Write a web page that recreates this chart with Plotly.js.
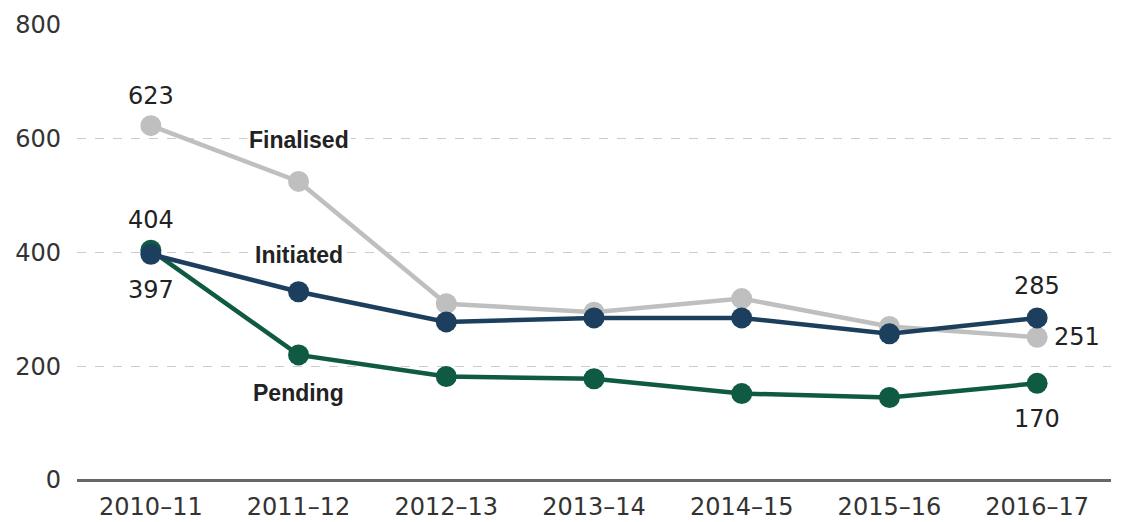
<!DOCTYPE html>
<html>
<head>
<meta charset="utf-8">
<script src="https://cdn.plot.ly/plotly-3.0.1.min.js"></script>
<style>html,body{margin:0;padding:0;background:#fff;}#chart{width:1126px;height:522px;}</style>
</head>
<body>
<div id="chart"></div>
<script>
const years = ["2010–11","2011–12","2012–13","2013–14","2014–15","2015–16","2016–17"];
const finalised = [623, 525, 310, 295, 319, 270, 251];
const initiated = [397, 331, 278, 285, 285, 257, 285];
const pending = [404, 220, 182, 178, 152, 145, 170];
const yTicks = [0, 200, 400, 600, 800];

const numFont = "DejaVu Sans, sans-serif";
const lblFamily = "Liberation Sans, Arial, sans-serif";
const colFin = "#bfbfbf", colIni = "#1c3f5e", colPen = "#0f5a43";

function trace(y, color, name) {
  return {x: years, y: y, type: "scatter", mode: "lines+markers", name: name,
    line: {color: color, width: 4.5}, marker: {color: color, size: 21}, cliponaxis: false,
    hoverinfo: "skip"};
}
const data = [trace(finalised, colFin, "Finalised"), trace(pending, colPen, "Pending"), trace(initiated, colIni, "Initiated")];

const valFont = {family: numFont, size: 24, color: "#222"};
const lblFont = {family: lblFamily, size: 23, color: "#222", weight: "bold"};
const n = years.length - 1;
const annotations = [
  {x: years[0], y: finalised[0], text: String(finalised[0]), yshift: 30, font: valFont},
  {x: years[0], y: pending[0], text: String(pending[0]), yshift: 30, font: valFont},
  {x: years[0], y: initiated[0], text: String(initiated[0]), yshift: -36, font: valFont},
  {x: years[n], y: initiated[n], text: String(initiated[n]), yshift: 32, font: valFont},
  {x: years[n], y: finalised[n], text: String(finalised[n]), xshift: 40, font: valFont},
  {x: years[n], y: pending[n], text: String(pending[n]), yshift: -36, font: valFont},
  {x: years[1], y: 600, text: "<b>Finalised</b>", yshift: -1, font: lblFont, bgcolor: "#fff"},
  {x: years[1], y: 395, text: "<b>Initiated</b>", yshift: 0, font: lblFont, bgcolor: "#fff"},
  {x: years[1], y: 153, text: "<b>Pending</b>", yshift: 0, font: lblFont}
].map(a => Object.assign({xref: "x", yref: "y", showarrow: false}, a));

const layout = {
  width: 1126, height: 522,
  margin: {l: 77, r: 15, t: 25, b: 42},
  paper_bgcolor: "#fff", plot_bgcolor: "#fff",
  showlegend: false,
  font: {family: numFont, color: "#333"},
  xaxis: {type: "category", range: [-0.5, 6.5], showgrid: false, zeroline: false,
    showline: false, ticks: "", ticklabelstandoff: 10,
    tickfont: {family: numFont, size: 24, color: "#333"}, fixedrange: true},
  yaxis: {range: [0, 800], tickvals: yTicks, ticktext: yTicks.map(String),
    showgrid: true, gridcolor: "#cccccc", griddash: "dash", gridwidth: 1.2,
    zeroline: true, zerolinecolor: "#666", zerolinewidth: 3,
    showline: false, ticks: "", ticklabelstandoff: 15,
    tickfont: {family: numFont, size: 24, color: "#333"}, fixedrange: true},
  annotations: annotations
};
Plotly.newPlot("chart", data, layout, {displayModeBar: false, staticPlot: true});
</script>
</body>
</html>
